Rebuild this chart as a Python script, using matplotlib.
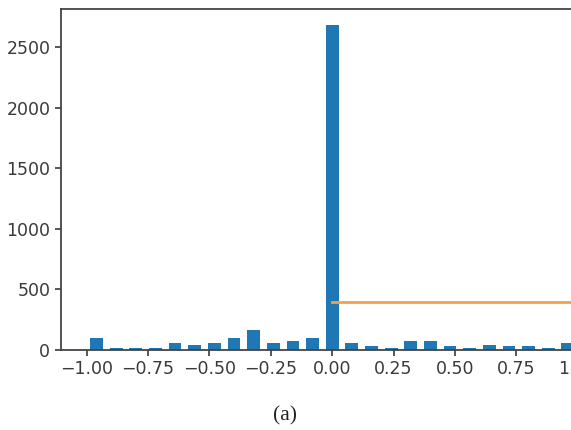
import numpy as np
import matplotlib
matplotlib.use("Agg")
import matplotlib.pyplot as plt

# histogram bin centres (25 bins over [-1, 1]) and counts
centers = [-0.96, -0.88, -0.80, -0.72, -0.64, -0.56, -0.48, -0.40, -0.32, -0.24, -0.16, -0.08,
           0.00, 0.08, 0.16, 0.24, 0.32, 0.40, 0.48, 0.56, 0.64, 0.72, 0.80, 0.88, 0.96]
counts = [97, 19, 19, 17, 60, 44, 60, 97, 163, 60, 72, 97,
          2680, 58, 30, 17, 72, 72, 30, 17, 44, 30, 30, 17, 58]

# orange reference line
line_x = [0.0, 1.5]
line_y = [400, 400]

xticks = [-1.00, -0.75, -0.50, -0.25, 0.00, 0.25, 0.50, 0.75, 1.00]
yticks = [0, 500, 1000, 1500, 2000, 2500]

fig = plt.figure(figsize=(5.71, 4.30), dpi=100)
# axes runs past the right edge, like the cropped original
ax = fig.add_axes([0.1063, 0.186, 0.951, 0.793])

ax.bar(centers, counts, width=0.052, color='#1f77b4')
ax.plot(line_x, line_y, color='#f5a04a', lw=2.0)

ax.set_xlim(-1.106, 1.106)
ax.set_ylim(0, 2815)
ax.set_xticks(xticks)
ax.set_xticklabels([('%.2f' % t).replace('-', '\u2212') for t in xticks])
ax.set_yticks(yticks)
ax.tick_params(labelsize=12.5, colors='#3a3a3a', length=4, width=1.2)
for s in ax.spines.values():
    s.set_linewidth(1.3)
    s.set_color('#444444')

fig.text(0.5, 0.032, '(a)', ha='center', va='center', fontsize=15.5,
         family='Liberation Serif', color='#222222')

fig.savefig('out.png', dpi=100)
